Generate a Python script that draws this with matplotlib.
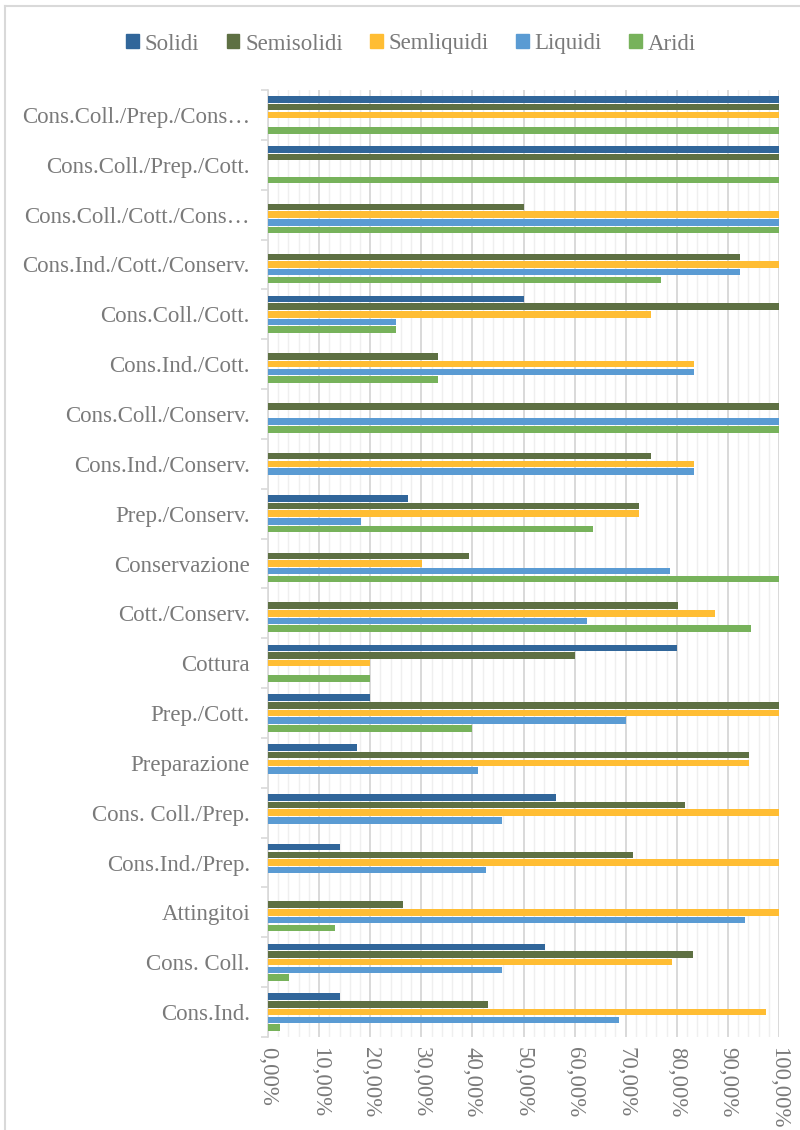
import matplotlib
matplotlib.use("Agg")
import matplotlib.pyplot as plt
from matplotlib.lines import Line2D
from matplotlib.patches import Patch
from matplotlib.ticker import MultipleLocator, FuncFormatter
import numpy as np

# categories, top to bottom as drawn
categories = [
    "Cons.Coll./Prep./Cons…", "Cons.Coll./Prep./Cott.", "Cons.Coll./Cott./Cons…",
    "Cons.Ind./Cott./Conserv.", "Cons.Coll./Cott.", "Cons.Ind./Cott.",
    "Cons.Coll./Conserv.", "Cons.Ind./Conserv.", "Prep./Conserv.", "Conservazione",
    "Cott./Conserv.", "Cottura", "Prep./Cott.", "Preparazione", "Cons. Coll./Prep.",
    "Cons.Ind./Prep.", "Attingitoi", "Cons. Coll.", "Cons.Ind.",
]
series = ["Solidi", "Semisolidi", "Semliquidi", "Liquidi", "Aridi"]

solidi =     [100, 100, 0, 0, 50, 0, 0, 0, 27.3, 0, 0, 80, 20, 17.5, 56.4, 14.1, 0, 54.2, 14.1]
semisolidi = [100, 100, 50, 92.3, 100, 33.3, 100, 75, 72.7, 39.3, 80.2, 60, 100, 94.1, 81.6, 71.4, 26.5, 83.2, 43.1]
semliquidi = [100, 0, 100, 100, 75, 83.3, 0, 83.3, 72.7, 30.1, 87.4, 20, 100, 94.1, 100, 100, 100, 79.1, 97.4]
liquidi =    [0, 0, 100, 92.3, 25, 83.3, 100, 83.3, 18.2, 78.7, 62.5, 0, 70, 41.1, 45.7, 42.7, 93.3, 45.7, 68.6]
aridi =      [100, 100, 100, 76.9, 25, 33.3, 100, 0, 63.6, 100, 94.5, 20, 40, 0, 0, 0, 13.2, 4.1, 2.4]

colors = ["#31669a", "#5e7043", "#ffbd33", "#5a9bd3", "#77b25b"]
txt = "#7a7a7a"
plt.rcParams["font.family"] = ["Liberation Serif", "DejaVu Serif"]

fig = plt.figure(figsize=(8, 11.3), dpi=100)
ax = fig.add_axes([268 / 800, 1 - 1037 / 1130, 511 / 800, 947 / 1130])

y = np.arange(len(categories))
step, h = 0.154, 0.13
for k, (name, vals) in enumerate(zip(series, [solidi, semisolidi, semliquidi, liquidi, aridi])):
    ax.barh(y + (k - 2) * step, vals, height=h, color=colors[k], linewidth=0, zorder=3)

ax.set_xlim(0, 100)
ax.set_ylim(len(categories) - 0.5, -0.5)
ax.xaxis.set_major_locator(MultipleLocator(10))
ax.xaxis.set_minor_locator(MultipleLocator(2))
ax.grid(axis="x", which="major", color="#d9d9d9", lw=1.4, zorder=1)
ax.grid(axis="x", which="minor", color="#efefef", lw=1.0, zorder=0)
ax.xaxis.set_major_formatter(FuncFormatter(lambda v, p: f"{v:.2f}".replace(".", ",") + "%"))
ax.tick_params(axis="x", which="both", length=0, pad=7, labelsize=16.5, labelcolor=txt)
for lab in ax.get_xticklabels():
    lab.set_rotation(-90)
    lab.set_va("top")
    lab.set_ha("center")

ax.set_yticks(y)
ax.set_yticklabels(categories)
ax.set_yticks(np.arange(len(categories) + 1) - 0.5, minor=True)
ax.tick_params(axis="y", which="major", length=0, pad=13, labelsize=16.5, labelcolor=txt)
ax.tick_params(axis="y", which="minor", length=5, color="#d9d9d9", width=1.2)
for s in ["top", "right", "bottom"]:
    ax.spines[s].set_visible(False)
ax.spines["left"].set_color("#d9d9d9")
ax.spines["left"].set_linewidth(1.2)

handles = [Patch(color=c, label=n) for c, n in zip(colors, series)]
fig.legend(handles=handles, loc="center", bbox_to_anchor=(411 / 800, 1 - 44 / 1130), ncol=5,
           frameon=False, fontsize=16.5, labelcolor=txt, handlelength=0.55, handleheight=0.55,
           handletextpad=0.25, columnspacing=1.2)

# chart area border (top and left visible)
fig.add_artist(Line2D([5 / 800, 1], [1 - 6 / 1130] * 2, color="#d9d9d9", lw=1.5))
fig.add_artist(Line2D([5 / 800] * 2, [0, 1 - 6 / 1130], color="#d9d9d9", lw=1.5))

fig.savefig("out.png", dpi=100)
